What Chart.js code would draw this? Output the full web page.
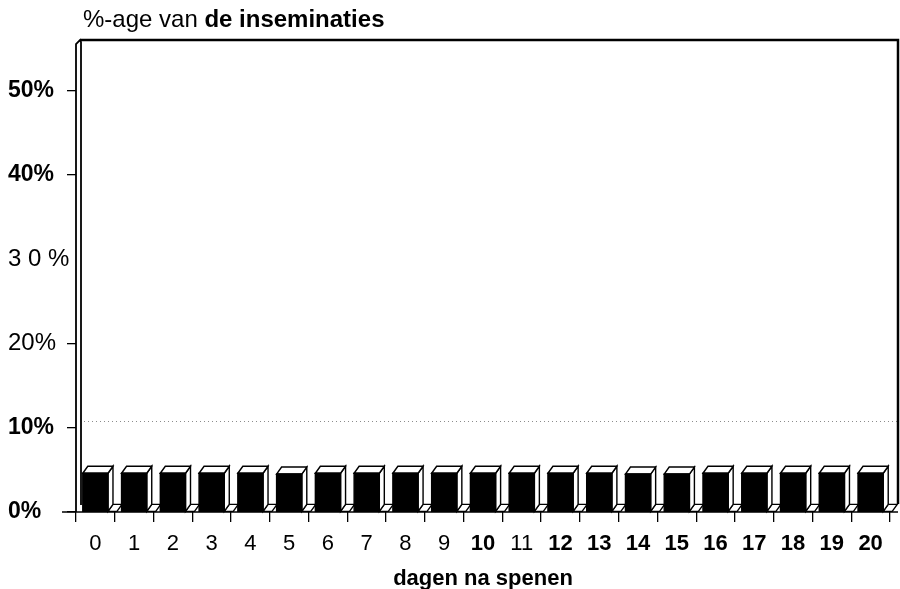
<!DOCTYPE html>
<html>
<head>
<meta charset="utf-8">
<script src="https://cdn.jsdelivr.net/npm/chart.js@4/dist/chart.umd.min.js"></script>
<style>
  html, body { margin: 0; padding: 0; background: #fff; }
  #wrap { width: 900px; height: 589px; position: relative; }
</style>
</head>
<body>
<div id="wrap"><canvas id="chart"></canvas></div>
<script>
// data
const days = ['0','1','2','3','4','5','6','7','8','9','10','11','12','13','14','15','16','17','18','19','20'];
const inseminaties = [4.6, 4.6, 4.6, 4.6, 4.6, 4.5, 4.6, 4.6, 4.6, 4.6, 4.6, 4.6, 4.6, 4.6, 4.5, 4.5, 4.6, 4.6, 4.6, 4.6, 4.6];
const yTicks = [0, 10, 20, 30, 40, 50];
const yLabels = ['0%', '10%', '20%', '3 0 %', '40%', '50%'];
const yMax = 56;

const FONT = '"Liberation Sans", Arial, sans-serif';
const DX = 5, DY = 7;

// 3D look: top and side faces, floor, frame and title
const boxPlugin = {
    id: 'box3d',
    beforeDatasetsDraw(chart) {
        const ctx = chart.ctx;
        const a = chart.chartArea;
        const y = chart.scales.y;
        // faint dotted line near 10%
        ctx.save();
        ctx.strokeStyle = 'rgba(0,0,0,0.45)';
        ctx.lineWidth = 1;
        ctx.setLineDash([1, 3]);
        const gy = Math.round(y.getPixelForValue(yTicks[1]) - DY) + 0.5;
        ctx.beginPath();
        ctx.moveTo(a.left + 8, gy);
        ctx.lineTo(a.right + 8, gy);
        ctx.stroke();
        ctx.restore();
    },
    afterDatasetsDraw(chart) {
        const ctx = chart.ctx;
        const a = chart.chartArea;
        const meta = chart.getDatasetMeta(0);
        ctx.save();
        ctx.lineWidth = 1.4;
        ctx.strokeStyle = '#000';
        ctx.fillStyle = '#fff';
        meta.data.forEach(bar => {
            const p = bar.getProps(['x', 'y', 'base', 'width'], true);
            const l = p.x - p.width / 2, r = p.x + p.width / 2;
            // floor piece
            ctx.beginPath();
            ctx.moveTo(r, p.base);
            ctx.lineTo(r + DX, p.base - DY);
            ctx.lineTo(r + DX + 9, p.base - DY);
            ctx.lineTo(r + 9, p.base);
            ctx.closePath();
            ctx.fill(); ctx.stroke();
            // side face
            ctx.beginPath();
            ctx.moveTo(r, p.y);
            ctx.lineTo(r + DX, p.y - DY);
            ctx.lineTo(r + DX, p.base - DY);
            ctx.lineTo(r, p.base);
            ctx.closePath();
            ctx.fill(); ctx.stroke();
            // top face
            ctx.beginPath();
            ctx.moveTo(l, p.y);
            ctx.lineTo(l + DX, p.y - DY);
            ctx.lineTo(r + DX, p.y - DY);
            ctx.lineTo(r, p.y);
            ctx.closePath();
            ctx.fill(); ctx.stroke();
            ctx.strokeRect(l, p.y, p.width, p.base - p.y);
        });

        // frame
        ctx.lineWidth = 2.5;
        ctx.beginPath();
        ctx.moveTo(a.left + 4, a.top);
        ctx.lineTo(a.right + 8, a.top);
        ctx.lineTo(a.right + 8, a.bottom - 8);
        ctx.stroke();
        // double left wall
        ctx.lineWidth = 1.8;
        ctx.beginPath();
        ctx.moveTo(a.left, a.bottom);
        ctx.lineTo(a.left, a.top + 4);
        ctx.lineTo(a.left + 4, a.top);
        ctx.lineTo(a.left + 5, a.top + 2);
        ctx.lineTo(a.left + 5, a.bottom - DY);
        ctx.stroke();
        // base line
        ctx.lineWidth = 1.5;
        ctx.beginPath();
        ctx.moveTo(a.left - 14, a.bottom);
        ctx.lineTo(a.right + 8, a.bottom);
        ctx.stroke();

        // title with mixed weight
        ctx.fillStyle = '#000';
        ctx.textBaseline = 'alphabetic';
        ctx.textAlign = 'left';
        ctx.font = '24px ' + FONT;
        const part1 = '%-age van ';
        ctx.fillText(part1, 83, 27);
        const w1 = ctx.measureText(part1).width;
        ctx.font = 'bold 24px ' + FONT;
        ctx.fillText('de inseminaties', 83 + w1, 27);
        ctx.restore();
    }
};

new Chart(document.getElementById('chart'), {
    type: 'bar',
    data: {
        labels: days,
        datasets: [{
            label: '%-age van de inseminaties',
            data: inseminaties,
            backgroundColor: '#000',
            borderWidth: 0,
            categoryPercentage: 1,
            barPercentage: 0.65
        }]
    },
    options: {
        responsive: true,
        maintainAspectRatio: false,
        animation: false,
        layout: { padding: { top: 40, left: 8, right: 10, bottom: 0 } },
        plugins: {
            legend: { display: false },
            tooltip: { enabled: false }
        },
        scales: {
            x: {
                afterFit: s => { s.height = 77; },
                grid: { display: true, drawOnChartArea: false, tickLength: 10, color: '#000', lineWidth: 1.3 },
                border: { display: false },
                ticks: {
                    color: '#000',
                    padding: 9,
                    font: c => ({
                        family: FONT,
                        size: 22,
                        weight: (c.index === 10 || c.index >= 12) ? 'bold' : 'normal'
                    })
                },
                title: {
                    display: true,
                    text: 'dagen na spenen',
                    color: '#000',
                    font: { family: FONT, size: 22, weight: 'bold' },
                    padding: { top: 0, bottom: -3 }
                }
            },
            y: {
                min: 0,
                max: yMax,
                afterBuildTicks: s => { s.ticks = yTicks.map(v => ({ value: v })); },
                afterFit: s => { s.width = 68; },
                grid: {
                    display: true,
                    drawOnChartArea: false,
                    tickLength: 9,
                    color: c => c.index === 3 ? 'rgba(0,0,0,0)' : '#000',
                    lineWidth: 1.3
                },
                border: { display: false },
                ticks: {
                    color: '#000',
                    crossAlign: 'far',
                    padding: 4,
                    callback: (v, i) => yLabels[i],
                    font: c => ({
                        family: FONT,
                        size: (c.index === 2 || c.index === 3) ? 24 : 23,
                        weight: (c.index === 2 || c.index === 3) ? 'normal' : 'bold'
                    })
                }
            }
        }
    },
    plugins: [boxPlugin]
});
</script>
</body>
</html>
